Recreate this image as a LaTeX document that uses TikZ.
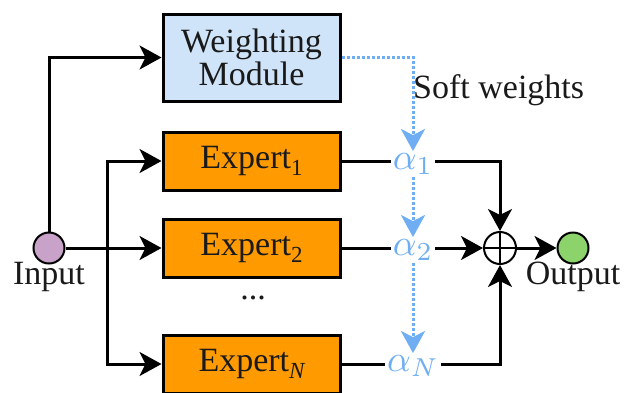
\documentclass[tikz,border=0pt]{standalone}
\usepackage{fontspec}
\setmainfont{Liberation Serif}
\usetikzlibrary{arrows.meta,calc}
\definecolor{wmblue}{HTML}{CFE4F8}
\definecolor{exporange}{HTML}{FF9A00}
\definecolor{inpurple}{HTML}{C9A2C9}
\definecolor{outgreen}{HTML}{8CD36B}
\definecolor{softblue}{HTML}{6FAEF2}
\definecolor{txt}{HTML}{1A1A1A}
\newcommand{\mysub}[1]{\raisebox{-7pt}{\fontsize{23}{23}\selectfont #1}}
\newcommand{\myalpha}[1]{\scalebox{3.7}{$\alpha_{#1}$}}
\tikzset{
  base/.style={font=\fontsize{34}{36}\selectfont, text=txt},
  wmbox/.style={base, draw=black, line width=3pt, fill=wmblue, minimum width=177pt, minimum height=87pt, align=center, inner sep=0pt},
  expbox/.style={base, draw=black, line width=3pt, fill=exporange, minimum width=177pt, minimum height=58pt, inner sep=0pt},
  dotc/.style={circle, draw=black, line width=2pt, minimum size=31pt, inner sep=0pt},
  alab/.style={text=softblue, inner sep=2pt},
  conn/.style={draw=black, line width=3pt, -{Stealth[length=22pt,width=24pt,inset=6pt]}},
  plain/.style={draw=black, line width=3pt},
  soft/.style={draw=softblue, line width=3pt, dotted, -{Stealth[length=22pt,width=24pt,inset=6pt]}},
  lbl/.style={base, inner sep=0pt}
}
\begin{document}
\begin{tikzpicture}[x=1pt,y=-1pt]
\useasboundingbox (0,0) rectangle (624,392);
\node[wmbox] (wm) at (251.5,57.5) {Weighting\\[-3pt]Module};
\node[expbox] (e1) at (251.5,161) {Expert\mysub{1}};
\node[expbox] (e2) at (251.5,248) {Expert\mysub{2}};
\node[expbox] (eN) at (251.5,364) {Expert\mysub{\itshape N}};
\node[lbl] (dots) at (253,298) {...};
\node[dotc, fill=inpurple] (in) at (49,248) {};
\node[lbl, anchor=north] (inl) at (49,262) {Input};
\node[alab] (a1) at (413,164) {\myalpha{1}};
\node[alab] (a2) at (413,250) {\myalpha{2}};
\node[alab] (aN) at (413,366) {\myalpha{N}};
\node[dotc, minimum size=32pt] (sum) at (500,248) {};
\draw[line width=2pt] (sum.north) -- (sum.south) (sum.west) -- (sum.east);
\node[dotc, fill=outgreen] (out) at (573,248) {};
\node[lbl, anchor=north] (outl) at (573,262) {Output};
\node[lbl, anchor=west] (sw) at (413,90) {Soft weights};
\coordinate (j) at (107,248);
% input connectors
\draw[conn] (in.north) |- (wm.west);
\draw[conn] (in.east) -- (e2.west);
\draw[conn] (j) |- (e1.west);
\draw[conn] (j) |- (eN.west);
% expert outputs
\draw[plain] (e1.east) -- (e1.east -| a1.west);
\draw[plain] (e2.east) -- (e2.east -| a2.west);
\draw[plain] (eN.east) -- (eN.east -| aN.west);
\draw[conn] (a1.east |- e1.east) -| (sum.north);
\draw[conn] (a2.east |- sum.west) -- (sum.west);
\draw[conn] (aN.east |- eN.east) -| (sum.south);
\draw[conn] (sum.east) -- (out.west);
% soft weights
\draw[soft] (wm.east) -| (a1.north);
\draw[soft] (a1.south) -- (a2.north);
\draw[soft] (a2.south) -- (aN.north);
\end{tikzpicture}
\end{document}
